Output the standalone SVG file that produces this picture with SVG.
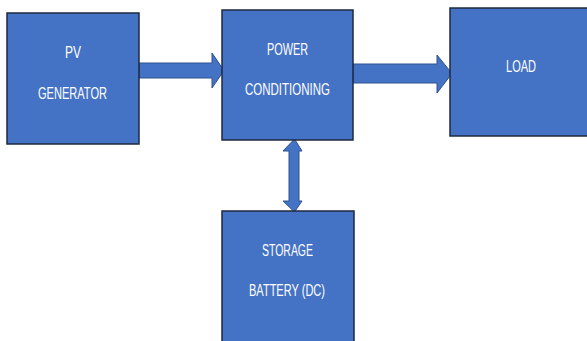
<svg xmlns="http://www.w3.org/2000/svg" width="587" height="341" viewBox="0 0 587 341">
<style>
.box{fill:#4472C4;stroke:#1E2A40;stroke-width:1.5}
.arr{fill:#4472C4;stroke:#2F528F;stroke-width:1}
.t{fill:#FFFFFF;font-family:"Liberation Sans","Open Sans",sans-serif;font-size:16px}
</style>
<rect width="587" height="341" fill="#FFFFFF"/>
<g id="connectors">
<polygon class="arr" points="139,63 212,63 212,53 224,70.5 212,88 212,78 139,78"/>
<polygon class="arr" points="353,64 437,64 437,55 452,73.5 437,93 437,83 353,83"/>
<polygon class="arr" points="289,151 283,151 294.5,139 302,151 299,151 299,201 302,201 294.5,212 283,201 289,201"/>
</g>
<g id="pv-generator">
<rect class="box" x="7" y="13" width="132" height="131"/>
<text class="t" x="65" y="58" textLength="16" lengthAdjust="spacingAndGlyphs">PV</text>
<text class="t" x="38" y="99" textLength="69" lengthAdjust="spacingAndGlyphs">GENERATOR</text>
</g>
<g id="power-conditioning">
<rect class="box" x="222" y="10" width="131" height="130"/>
<text class="t" x="267" y="55" textLength="41" lengthAdjust="spacingAndGlyphs">POWER</text>
<text class="t" x="245" y="95" textLength="85" lengthAdjust="spacingAndGlyphs">CONDITIONING</text>
</g>
<g id="load">
<rect class="box" x="450" y="8" width="140" height="128"/>
<text class="t" x="506" y="72" textLength="30" lengthAdjust="spacingAndGlyphs">LOAD</text>
</g>
<g id="storage-battery">
<rect class="box" x="222" y="211" width="132" height="135"/>
<text class="t" x="262" y="256" textLength="51" lengthAdjust="spacingAndGlyphs">STORAGE</text>
<text class="t" x="249" y="296" textLength="76" lengthAdjust="spacingAndGlyphs">BATTERY (DC)</text>
</g>
</svg>
